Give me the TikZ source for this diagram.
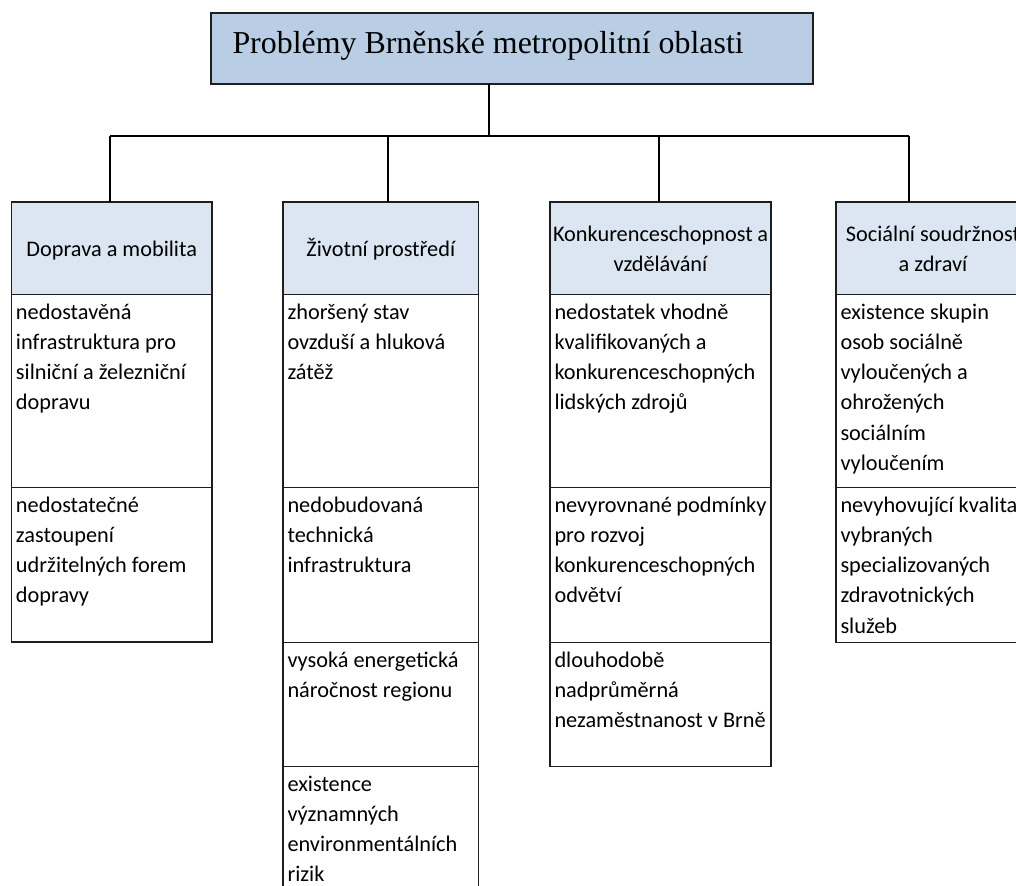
\documentclass[tikz,border=0pt]{standalone}
\usepackage{fontspec}
\setmainfont{Carlito}
\newfontfamily\titlefont{Liberation Serif}

\definecolor{topfill}{RGB}{185,205,228}
\definecolor{headfill}{RGB}{220,230,242}
\definecolor{edge}{RGB}{30,30,30}

% strut that fixes the vertical extent of a header line
\newcommand\hs{\rule[-5pt]{0pt}{26.5pt}}
% header label: centred lines in a box of fixed height
\newcommand\headtext[2]{\parbox[c][92.5pt][c]{\dimexpr#1pt-6pt\relax}{\centering\fontsize{22.3}{30}\selectfont #2}}
% problem cell: top-aligned lines in a box of fixed height
\newcommand\bodytext[3]{\parbox[c][#2pt][t]{\dimexpr#1pt-9pt\relax}{\raggedright\fontsize{22.3}{30.3}\selectfont\rule{0pt}{24.5pt}#3}}

\begin{document}
\begin{tikzpicture}[x=1pt,y=-1pt,
  topbox/.style={draw=edge, line width=1.8pt, fill=topfill, inner sep=0pt, outer sep=0pt, anchor=north west},
  headbox/.style={draw=edge, line width=1.4pt, fill=headfill, inner xsep=3pt, inner ysep=0pt, outer sep=0pt, anchor=north west},
  cellbox/.style={draw=edge, line width=1.4pt, fill=white, inner xsep=4.5pt, inner ysep=0pt, outer sep=0pt, anchor=north west},
  conn/.style={draw=black, line width=1.6pt}]
\useasboundingbox (0,0) rectangle (1016,885);
\clip (0,0) rectangle (1016,885);

% title
\node[topbox] (top) at (211,13) {\parbox[c][71pt][t]{602pt}{\hspace*{21.5pt}\rule{0pt}{40.3pt}\titlefont\fontsize{31.9}{36}\selectfont Problémy Brněnské metropolitní oblasti}};

% column 1
\node[headbox] (h1) at (11.5,202) {\headtext{200.5}{\hs Doprava~a~mobilita}};
\node[cellbox] (c11) at (11.5,294.5) {\bodytext{200.5}{193}{nedostavěná\\infrastruktura~pro\\silniční~a~železniční\\dopravu}};
\node[cellbox] (c12) at (11.5,487.5) {\bodytext{200.5}{154.5}{nedostatečné\\zastoupení\\udržitelných~forem\\dopravy}};

% column 2
\node[headbox] (h2) at (283,202) {\headtext{195.5}{\hs Životní~prostředí}};
\node[cellbox] (c21) at (283,294.5) {\bodytext{195.5}{193}{zhoršený~stav\\ovzduší~a~hluková\\zátěž}};
\node[cellbox] (c22) at (283,487.5) {\bodytext{195.5}{155}{nedobudovaná\\technická\\infrastruktura}};
\node[cellbox] (c23) at (283,642.5) {\bodytext{195.5}{124}{vysoká~energetická\\náročnost~regionu}};
\node[cellbox] (c24) at (283,766.5) {\bodytext{195.5}{200}{existence\\významných\\environmentálních\\rizik}};

% column 3
\node[headbox] (h3) at (550,202) {\headtext{221}{\hs Konkurenceschopnost~a\\\hs vzdělávání}};
\node[cellbox] (c31) at (550,294.5) {\bodytext{221}{193}{nedostatek~vhodně\\kvalifikovaných~a\\konkurenceschopných\\lidských~zdrojů}};
\node[cellbox] (c32) at (550,487.5) {\bodytext{221}{155}{nevyrovnané~podmínky\\pro~rozvoj\\konkurenceschopných\\odvětví}};
\node[cellbox] (c33) at (550,642.5) {\bodytext{221}{124}{dlouhodobě\\nadprůměrná\\nezaměstnanost~v~Brně}};

% column 4
\node[headbox] (h4) at (836,202) {\headtext{194}{\hs Sociální~soudržnost\\\hs a~zdraví}};
\node[cellbox] (c41) at (836,294.5) {\bodytext{194}{193}{existence~skupin\\osob~sociálně\\vyloučených~a\\ohrožených\\sociálním\\vyloučením}};
\node[cellbox] (c42) at (836,487.5) {\bodytext{194}{155}{nevyhovující~kvalita\\vybraných\\specializovaných\\zdravotnických\\služeb}};

% connectors
\coordinate (bus) at (0,136);
\draw[conn] ([xshift=-23pt]top.south) -- ([xshift=-23pt]top.south |- bus);
\draw[conn] ([xshift=-1.75pt]h1.north |- bus) -- ([xshift=-24pt]h4.north |- bus);
\draw[conn] ([xshift=-1.75pt]h1.north |- bus) -- ([xshift=-1.75pt]h1.north);
\draw[conn] ([xshift=7.25pt]h2.north |- bus) -- ([xshift=7.25pt]h2.north);
\draw[conn] ([xshift=-1.5pt]h3.north |- bus) -- ([xshift=-1.5pt]h3.north);
\draw[conn] ([xshift=-24pt]h4.north |- bus) -- ([xshift=-24pt]h4.north);
\end{tikzpicture}
\end{document}
